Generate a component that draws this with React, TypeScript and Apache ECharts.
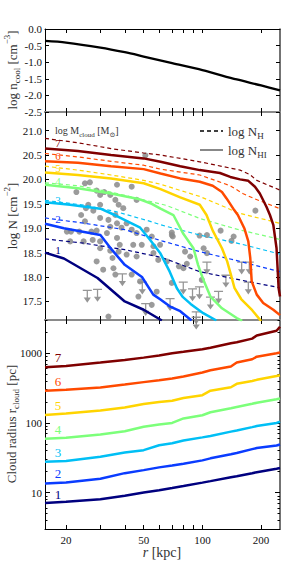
import React, { useEffect, useRef } from 'react';
import * as echarts from 'echarts';

// ---------- Panel 1: cool gas density ----------
const R_COOL = [15.6, 20, 30, 40, 50, 70, 100, 150, 200, 250];
const LOG_N_COOL = [-0.36, -0.41, -0.56, -0.7, -0.83, -1.03, -1.24, -1.52, -1.7, -1.85];

// ---------- Panel 2: column densities, [r (kpc), log N] ----------
const NHI_1 = [[15.6, 18.5], [19.5, 18.38], [29, 17.98], [40, 17.5], [50, 17.33], [62, 17.11]];
const NHI_2 = [[15.6, 19.09], [19.5, 19.0], [30, 18.86], [34.5, 18.55], [40, 18.25], [49, 18.0], [56, 17.64], [61, 17.54], [68, 17.4], [77, 17.3], [88, 17.11]];
const NHI_3 = [[15.6, 19.53], [21, 19.48], [25, 19.44], [30, 19.4], [36, 19.26], [48, 19.01], [54, 18.76], [61, 18.48], [68, 18.11], [74, 17.77], [79, 17.6], [87, 17.45], [101, 17.26], [118, 17.11]];
const NHI_4 = [[15.6, 19.89], [23, 19.82], [34, 19.71], [47, 19.6], [55, 19.5], [61, 19.4], [71, 19.27], [80, 18.88], [90, 18.59], [95, 18.25], [101, 17.95], [110, 17.6], [126, 17.36], [150, 17.16], [160, 17.1]];
const NHI_5 = [[15.6, 20.14], [23, 20.09], [34, 20.02], [50, 19.92], [61, 19.8], [77, 19.63], [97, 19.48], [105, 19.27], [113, 18.95], [126, 18.59], [134, 18.32], [140, 18.05], [146, 17.78], [158, 17.55], [180, 17.32], [200, 17.1]];
const NHI_6 = [[15.6, 20.37], [23, 20.34], [34, 20.27], [50, 20.21], [61, 20.12], [77, 20.02], [97, 19.95], [113, 19.87], [126, 19.74], [133, 19.61], [144, 19.4], [152, 19.27], [164, 19.0], [172, 18.73], [176, 18.39], [179, 17.91], [190, 17.64], [205, 17.47], [231, 17.33], [250, 17.22]];
const NHI_7 = [[15.6, 20.63], [23, 20.58], [34, 20.5], [50, 20.43], [61, 20.36], [77, 20.27], [97, 20.19], [123, 20.13], [139, 20.05], [156, 20.0], [172, 19.97], [186, 19.85], [197, 19.71], [213, 19.44], [222, 19.27], [231, 19.07], [240, 18.59], [246, 17.77], [250, 17.6]];

const NH_1 = [[15.6, 18.78], [25, 18.69], [40, 18.56], [62, 18.4], [97, 18.11], [156, 17.94], [250, 17.78]];
const NH_2 = [[15.6, 19.21], [25, 19.1], [40, 18.97], [62, 18.74], [97, 18.52], [156, 18.32], [250, 18.11]];
const NH_3 = [[15.6, 19.57], [25, 19.47], [36, 19.34], [54, 19.14], [61, 19.07], [97, 18.86], [156, 18.68], [250, 18.47]];
const NH_4 = [[15.6, 19.93], [23, 19.87], [34, 19.74], [50, 19.58], [65, 19.47], [97, 19.2], [150, 18.98], [250, 18.77]];
const NH_5 = [[15.6, 20.27], [23, 20.19], [34, 20.09], [50, 19.98], [61, 19.9], [97, 19.65], [133, 19.42], [150, 19.32], [250, 19.1]];
const NH_6 = [[15.6, 20.53], [23, 20.46], [34, 20.37], [50, 20.29], [61, 20.21], [97, 20.09], [139, 19.87], [161, 19.71], [186, 19.6], [250, 19.4]];
const NH_7 = [[15.6, 20.84], [23, 20.75], [34, 20.63], [50, 20.54], [61, 20.5], [97, 20.36], [156, 20.19], [175, 20.1], [190, 19.98], [250, 19.78]];

// observed detections [r, log N_HI]
const DETECTIONS = [
  [51, 20.49], [25, 19.92], [26.5, 19.94], [36.5, 19.89], [43.4, 19.85], [22.6, 19.74], [28.7, 19.77],
  [31.4, 19.74], [29.9, 19.68], [33.7, 19.68], [35.8, 19.58], [46, 19.58], [26, 19.48], [25.3, 19.41],
  [29.9, 19.48], [27.6, 19.36], [37.2, 19.48], [39.3, 19.41], [23.9, 19.27], [29.9, 19.21], [35.8, 19.27],
  [25, 19.14], [33, 19.17], [36.5, 19.1], [40.9, 19.1], [33.7, 19.03], [38.5, 19.01], [23.4, 18.93],
  [20.2, 18.93], [21.2, 18.93], [27, 18.93], [28.7, 18.95], [32.4, 18.9], [43.4, 18.97], [46, 18.9],
  [51.8, 18.97], [55, 18.83], [69.7, 18.91], [70.5, 18.83], [21, 18.73], [24.6, 18.73], [27.4, 18.76],
  [29.9, 18.73], [36.5, 18.8], [37.7, 18.66], [44.2, 18.66], [48.9, 18.66], [56.1, 18.63], [29.9, 18.59],
  [33.7, 18.54], [34.6, 18.39], [37.2, 18.52], [40.9, 18.46], [46, 18.42], [56.1, 18.49], [59.4, 18.35],
  [65.7, 18.32], [81.5, 18.52], [80, 18.18], [28.7, 18.32], [31, 18.15], [35, 18.18], [35.8, 18.05],
  [43.4, 18.05], [47.9, 17.91], [58.3, 17.7], [47, 17.6], [55, 17.43], [101.5, 18.59], [105.5, 18.86],
  [144.6, 18.83], [187, 19.36], [33, 17.19], [69.7, 18.86], [96.7, 18.85], [105.5, 18.49], [124, 18.95],
  [141, 18.74], [60.7, 18.66], [86.6, 18.42], [69.7, 17.88], [83.2, 18.27], [99.3, 17.94], [75.8, 18.22]
];
// upper limits [r, log N_HI]
const UPPER_LIMITS = [
  [79.8, 17.91], [96.6, 17.81], [121, 17.72], [68.3, 17.57], [93, 17.3], [105.5, 18.32], [132, 18.05],
  [159, 18.32], [174, 18.32], [172, 17.91], [38.9, 18.08], [25.7, 17.74], [29, 17.76], [49.2, 17.91],
  [51.2, 17.47], [110, 17.6], [89, 17.77], [93, 17.19]
];

// ---------- Panel 3: cloud radius (pc) ----------
const R_RAD = [15.6, 20, 30, 40, 50, 60, 70, 80, 100, 110, 140, 150, 180, 190, 240, 250];
const RAD_1 = [7.1, 7.4, 8.0, 9.0, 10.0, 10.8, 11.6, 12.4, 13.9, 14.6, 16.6, 17.2, 19.0, 19.6, 22.0, 22.5];
const RAD_2 = [13.5, 14.0, 15.8, 19.0, 21, 23, 24.5, 26, 29, 31, 35.5, 37, 42, 43.5, 47.5, 49];
const RAD_3 = [27.7, 28.5, 32.7, 37.5, 40.6, 47.8, 51, 56, 62, 65, 75, 78, 87, 90, 100, 104];
const RAD_4 = [59, 61, 68, 76, 88, 95, 100, 116, 129, 142, 162, 169, 188, 195, 218, 224];
const RAD_5 = [130, 136, 151, 166, 187, 200, 208, 228, 250, 290, 325, 364, 400, 415, 470, 482];
const RAD_6 = [289, 298, 323, 355, 385, 410, 435, 465, 530, 570, 645, 735, 820, 893, 1000, 1025];
const RAD_7 = [631, 655, 734, 800, 865, 925, 1000, 1050, 1140, 1200, 1390, 1440, 1620, 1800, 2100, 2400];

const MASS_LABELS = ['1', '2', '3', '4', '5', '6', '7'];
const COLORS = ['#00007f', '#0a3cff', '#00bff5', '#7cff7a', '#ffd400', '#ff4a00', '#7f0000'];

const N_TICKS = [17.5, 18.0, 18.5, 19.0, 19.5, 20.0, 20.5, 21.0];
const COOL_TICKS = [0, -0.5, -1.0, -1.5, -2.0, -2.5];
const X_TICK_VALUES = [20, 30, 40, 50, 60, 70, 80, 90, 100, 200];
const X_LABEL_VALUES = [20, 50, 100, 200];
const RAD_MAJOR = [10, 100, 1000];
const RAD_MINOR = [4, 5, 6, 7, 8, 9, 20, 30, 40, 50, 60, 70, 80, 90, 200, 300, 400, 500, 600, 700, 800, 900, 2000, 3000];

const FONT = "'Liberation Serif', 'DejaVu Serif', serif";
const L = Math.log10;

export default function App() {
  const ref = useRef<HTMLDivElement>(null);
  useEffect(() => {
    document.body.style.margin = '0';
    if (!ref.current) return;
    const chart = echarts.init(ref.current, null, { renderer: 'svg' });

    const xMin = L(15.6), xMax = L(250);
    const xTicks = X_TICK_VALUES.map(L);
    const xLabels = X_LABEL_VALUES.map(L);
    const GREY = '#8a8a8a';

    const mkX = (gridIndex: number, position: string, showLabel: boolean, color: string, width: number) => ({
      type: 'value', gridIndex, position, min: xMin, max: xMax,
      axisLine: { show: true, onZero: false, lineStyle: { color, width } },
      axisTick: { show: true, inside: true, length: 4, customValues: xTicks, lineStyle: { color: '#000', width: 1 } },
      axisLabel: {
        show: showLabel, customValues: xLabels, margin: 5,
        formatter: (v: number) => String(Math.round(Math.pow(10, v))),
        fontFamily: FONT, fontSize: 11, color: '#111'
      },
      splitLine: { show: false }
    });
    const mkY = (gridIndex: number, position: string, min: number, max: number, ticks: number[], labels: number[] | null,
      fmt: (v: number) => string, len: number, color: string, width: number, lineShow = true) => ({
      type: 'value', gridIndex, position, min, max,
      axisLine: { show: lineShow, onZero: false, lineStyle: { color, width } },
      axisTick: { show: true, inside: true, length: len, customValues: ticks, lineStyle: { color: '#000', width: 1 } },
      axisLabel: {
        show: !!labels, customValues: labels || ticks, margin: 3, formatter: fmt,
        fontFamily: FONT, fontSize: 11, color: '#111'
      },
      splitLine: { show: false }
    });
    const f1 = (v: number) => v.toFixed(1);
    const fr = (v: number) => String(Math.round(Math.pow(10, v)));
    const rMin = L(3), rMax = L(3000);

    const xAxis = [
      mkX(0, 'bottom', false, GREY, 2), mkX(0, 'top', false, '#000', 1),
      mkX(1, 'bottom', false, GREY, 2), mkX(1, 'top', false, GREY, 2),
      mkX(2, 'bottom', true, '#000', 1), mkX(2, 'top', false, GREY, 2)
    ];
    const yAxis = [
      mkY(0, 'left', -2.5, 0, COOL_TICKS, COOL_TICKS, f1, 4, '#000', 1),
      mkY(0, 'right', -2.5, 0, COOL_TICKS, null, f1, 4, '#444', 1.5),
      mkY(1, 'left', 17.12, 21.38, N_TICKS, N_TICKS, f1, 4, '#000', 1),
      mkY(1, 'right', 17.12, 21.38, N_TICKS, null, f1, 4, '#444', 1.5),
      mkY(2, 'left', rMin, rMax, RAD_MAJOR.map(L), RAD_MAJOR.map(L), fr, 5, '#000', 1),
      mkY(2, 'right', rMin, rMax, RAD_MAJOR.map(L), null, fr, 5, '#444', 1.5),
      mkY(2, 'left', rMin, rMax, RAD_MINOR.map(L), null, fr, 2.5, '#000', 1, false),
      mkY(2, 'right', rMin, rMax, RAD_MINOR.map(L), null, fr, 2.5, '#444', 1, false)
    ];

    const toXY = (arr: number[][]) => arr.map(([r, n]) => [L(r), n]);
    const series: any[] = [];
    series.push({
      type: 'line', xAxisIndex: 0, yAxisIndex: 0, showSymbol: false, smooth: 0.3,
      data: R_COOL.map((r, i) => [L(r), LOG_N_COOL[i]]),
      lineStyle: { color: '#000', width: 2.3 }
    });
    series.push({
      type: 'scatter', xAxisIndex: 2, yAxisIndex: 2, symbol: 'circle', symbolSize: 6,
      itemStyle: { color: GREY, opacity: 0.85 }, data: toXY(DETECTIONS)
    });
    series.push({
      type: 'scatter', xAxisIndex: 2, yAxisIndex: 2,
      symbol: 'path://M0,0H10V1.4H5.7V8.5H9L5,14L1,8.5H4.3V1.4H0Z', symbolSize: [9, 13], symbolOffset: [0, '50%'],
      itemStyle: { color: GREY, opacity: 0.9 }, data: toXY(UPPER_LIMITS)
    });
    const NH = [NH_1, NH_2, NH_3, NH_4, NH_5, NH_6, NH_7];
    const NHI = [NHI_1, NHI_2, NHI_3, NHI_4, NHI_5, NHI_6, NHI_7];
    NH.forEach((d, i) => series.push({
      type: 'line', xAxisIndex: 2, yAxisIndex: 2, showSymbol: false, data: toXY(d),
      lineStyle: { color: COLORS[i], width: 1.2, type: [4, 3] }
    }));
    NHI.forEach((d, i) => series.push({
      type: 'line', xAxisIndex: 2, yAxisIndex: 2, showSymbol: false, data: toXY(d),
      lineStyle: { color: COLORS[i], width: 2.5 }
    }));
    const RAD = [RAD_1, RAD_2, RAD_3, RAD_4, RAD_5, RAD_6, RAD_7];
    RAD.forEach((d, i) => series.push({
      type: 'line', xAxisIndex: 4, yAxisIndex: 4, showSymbol: false,
      data: R_RAD.map((r, j) => [L(r), L(d[j])]),
      lineStyle: { color: COLORS[i], width: 2.5 }
    }));

    const rich = (size: number) => ({
      a: { fontSize: size, fontFamily: FONT, lineHeight: size + 6, fill: '#333' },
      i: { fontSize: size, fontFamily: FONT, fontStyle: 'italic', lineHeight: size + 6, fill: '#333' },
      s: { fontSize: Math.round(size * 0.7), fontFamily: FONT, verticalAlign: 'bottom', fill: '#333' },
      p: { fontSize: Math.round(size * 0.7), fontFamily: FONT, verticalAlign: 'top', fill: '#333' }
    });
    const txt = (x: number, y: number, text: string, size: number, extra: any = {}) => ({
      type: 'text', x, y, ...extra,
      style: { text, rich: rich(size), fill: '#333', align: extra.align || 'center', verticalAlign: 'middle' }
    });
    const graphic: any[] = [
      txt(12, 70, '{a|log n}{s|cool}{a| [cm}{p|−3}{a|]}', 13, { rotation: Math.PI / 2 }),
      txt(12, 216, '{a|log N [cm}{p|−2}{a|]}', 13, { rotation: Math.PI / 2 }),
      txt(11, 424, '{a|Cloud radius r}{s|cloud}{a| [pc]}', 13, { rotation: Math.PI / 2 }),
      txt(162, 552, '{i|r}{a| [kpc]}', 14),
      txt(55, 130, '{a|log M}{s|cloud}{a| [M}{s|⊙}{a|]}', 10, { align: 'left' }),
      { type: 'line', shape: { x1: 200, y1: 131, x2: 223, y2: 131 }, style: { stroke: '#000', lineWidth: 1.5, lineDash: [4, 3] } },
      { type: 'line', shape: { x1: 200, y1: 150, x2: 223, y2: 150 }, style: { stroke: '#888', lineWidth: 2 } },
      txt(228, 131, '{a|log N}{s|H}', 13, { align: 'left' }),
      txt(228, 150, '{a|log N}{s|HI}', 13, { align: 'left' })
    ];
    const ys2 = [250, 219, 200, 180.5, 167.5, 155.5, 143];
    const ys3 = [494, 473, 452, 429, 405, 381, 357.7];
    MASS_LABELS.forEach((t, i) => {
      graphic.push({ type: 'text', x: 58, y: ys2[i], style: { text: t, fill: COLORS[i], font: `11px ${FONT}`, align: 'center', verticalAlign: 'middle' } });
      graphic.push({ type: 'text', x: 58, y: ys3[i], style: { text: t, fill: COLORS[i], font: `13px ${FONT}`, align: 'center', verticalAlign: 'middle' } });
    });

    chart.setOption({
      animation: false,
      backgroundColor: '#fff',
      grid: [
        { left: 45, right: 24, top: 29, height: 83, outerBoundsMode: 'none' },
        { left: 45, right: 24, top: 112, height: 208, outerBoundsMode: 'none' },
        { left: 45, right: 24, top: 320, height: 209, outerBoundsMode: 'none' }
      ],
      xAxis, yAxis, series, graphic
    });
    return () => chart.dispose();
  }, []);
  return <div ref={ref} style={{ width: 304, height: 570, position: 'absolute', left: 0, top: 0 }} />;
}
